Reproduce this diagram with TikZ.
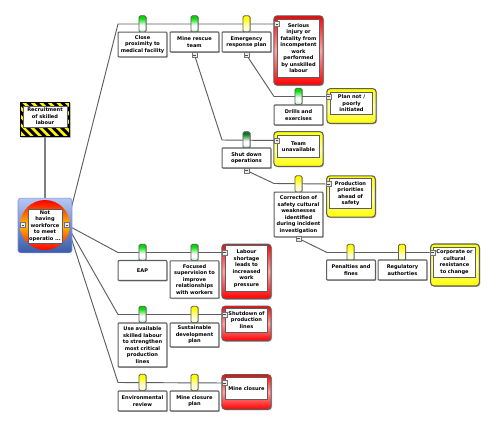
\documentclass[tikz,border=0pt]{standalone}
\usepackage{fontspec}
\setmainfont{DejaVu Sans}
\usetikzlibrary{shadows,backgrounds}
\definecolor{boxline}{HTML}{5E5E5E}
\definecolor{hazgreen}{HTML}{00DC00}
\definecolor{dkgreen}{HTML}{0B7A1E}
\definecolor{topblue}{HTML}{B4C8F0}
\definecolor{botblue}{HTML}{3A5CA8}
\pgfdeclareverticalshading{indg}{100bp}{color(0bp)=(hazgreen!45); color(25bp)=(hazgreen!45); color(36bp)=(white); color(46bp)=(white); color(68bp)=(hazgreen); color(100bp)=(hazgreen)}
\pgfdeclareverticalshading{indd}{100bp}{color(0bp)=(dkgreen!50); color(25bp)=(dkgreen!50); color(36bp)=(white); color(46bp)=(white); color(68bp)=(dkgreen); color(100bp)=(dkgreen)}
\pgfdeclareverticalshading{indy}{100bp}{color(0bp)=(yellow!35); color(25bp)=(yellow!35); color(36bp)=(yellow!12); color(46bp)=(yellow!30); color(66bp)=(yellow); color(100bp)=(yellow)}
\tikzset{
  txt/.style={font=\fontsize{3.8}{4.9}\selectfont\bfseries, align=center, inner sep=0pt},
  shade box/.style={drop shadow={shadow xshift=0.7pt, shadow yshift=-0.7pt, fill=black!45, opacity=0.6}},
  barrier/.style={txt, shade box, draw=boxline, line width=0.8pt, fill=white, rounded corners=0.5pt, minimum width=36.5pt, text width=35pt},
  ind/.style={draw=boxline, line width=0.6pt, rounded corners=1.3pt, minimum width=5.4pt, minimum height=12.5pt, inner sep=0pt},
  indgreen/.style={ind, shading=indg},
  inddark/.style={ind, shading=indd},
  indyellow/.style={ind, shading=indy},
  outer/.style={shade box, draw=boxline, line width=0.8pt, rounded corners=2.5pt},
  redcard/.style={outer, top color=red, bottom color=red, middle color=red!35},
  yelcard/.style={outer, top color=yellow, bottom color=yellow, middle color=yellow!35},
  inner/.style={txt, draw=boxline, line width=0.6pt, fill=white, minimum width=32pt, text width=32pt},
  link/.style={draw=boxline, line width=0.7pt},
  stripe/.style={line width=2.3pt, black},
  toggle/.style={draw=black!55, line width=0.4pt, fill=black!8, minimum size=4pt, inner sep=0pt,
    path picture={\draw[black!70, line width=0.3pt] ([xshift=-1.1pt]path picture bounding box.center) -- ([xshift=1.1pt]path picture bounding box.center);}}
}
\begin{document}
\begin{tikzpicture}[x=0.75pt, y=-0.75pt]
  \useasboundingbox (0,0) rectangle (494,429);
  % bends of the lines
  \coordinate (w1) at (118,24);
  \coordinate (w2) at (118,252.5);
  \coordinate (w3) at (118,314.5);
  \coordinate (w4) at (118,382.5);
  \coordinate (w5) at (222,140);
  \coordinate (w6) at (274,96.5);
  \coordinate (w7) at (274,183.5);
  \coordinate (w8) at (327,252.5);
  % hazard
  \node[shade box, draw=black, line width=0.8pt, minimum width=37pt, minimum height=26pt, inner sep=0pt, fill=yellow] (haz) at (45,119.5) {};
  \begin{scope}
    \clip (20.5,102.5) rectangle (69.5,136.5);
    \draw[stripe] (-8,100) -- (32,140) (0,100) -- (40,140) (8.5,100) -- (48.5,140) (17,100) -- (57,140) (25.5,100) -- (65.5,140)
      (34,100) -- (74,140) (42.5,100) -- (82.5,140) (51,100) -- (91,140) (59.5,100) -- (99.5,140) (68,100) -- (108,140);
  \end{scope}
  \node[txt, draw=boxline, line width=0.4pt, fill=white, minimum width=33pt, minimum height=15.5pt] (hazt) at (45,116.5)
    {Recruitment\\of skilled\\labour};
  % top event
  \node[draw=topblue!70!blue, line width=0.4pt, rounded corners=2pt, minimum width=40.5pt, minimum height=41pt, inner sep=0pt,
    top color=topblue, bottom color=botblue] (topbox) at (45,225.5) {};
  \node[circle, minimum size=37.5pt, inner sep=0pt, top color=red, bottom color=red, middle color=yellow!75!red] (disc) at (45,225) {};
  \node[txt, draw=boxline, line width=0.4pt, fill=white, text width=25pt, minimum width=25.5pt, minimum height=25.5pt] (top) at (45,226)
    {Not\\having\\workforce\\to meet\\operatio ...};
  % top row
  \node[indgreen] (i1) at (142.5,24) {};
  \node[indgreen] (i2) at (194.5,24) {};
  \node[indyellow] (i3) at (246.5,24) {};
  \node[barrier, minimum height=18.5pt] (b1) at (142.5,44.5) {Close\\proximity to\\medical facility};
  \node[barrier, minimum height=15pt] (b2) at (194.5,42) {Mine rescue\\team};
  \node[barrier, minimum height=15pt] (b3) at (246.5,42) {Emergency\\response plan};
  \node[redcard, minimum width=37pt, minimum height=52pt] (c1) at (298.5,50.5) {};
  \node[inner, minimum height=43.5pt] (c1t) at (298.5,48) {Serious\\injury or\\fatality from\\incompetent\\work\\performed\\by unskilled\\labour};
  % drills
  \node[indgreen] (i4) at (298.5,96.5) {};
  \node[barrier, minimum height=15pt] (b4) at (298.5,115) {Drills and\\exercises};
  \node[yelcard, minimum width=37pt, minimum height=26pt] (c2) at (351.5,106) {};
  \node[inner, minimum height=17pt] (c2t) at (351.5,103.5) {Plan not /\\poorly\\initiated};
  % shut down
  \node[inddark] (i5) at (246.5,140) {};
  \node[barrier, minimum height=15pt] (b5) at (246.5,158) {Shut down\\operations};
  \node[yelcard, minimum width=37pt, minimum height=26pt] (c3) at (298.5,149) {};
  \node[inner, minimum height=17pt] (c3t) at (298.5,146.5) {Team\\unavailable};
  % correction
  \node[indyellow] (i6) at (298.5,184) {};
  \node[barrier, minimum height=33.5pt] (b6) at (298.5,214.5) {Correction of\\safety cultural\\weaknesses\\identified\\during incident\\investigation};
  \node[yelcard, minimum width=36.5pt, minimum height=31pt] (c4) at (351,196.5) {};
  \node[inner, minimum height=23pt] (c4t) at (350.5,193.5) {Production\\priorities\\ahead of\\safety};
  % penalties
  \node[indyellow] (i7) at (350.5,252.5) {};
  \node[indyellow] (i8) at (402,252.5) {};
  \node[barrier, minimum height=15pt] (b7) at (351,270) {Penalties and\\fines};
  \node[barrier, minimum height=15pt] (b8) at (402.5,270) {Regulatory\\authorties};
  \node[yelcard, minimum width=36.5pt, minimum height=31.5pt] (c5) at (455,265) {};
  \node[inner, minimum height=22.5pt] (c5t) at (454.5,262) {Corporate or\\cultural\\resistance\\to change};
  % lower rows
  \node[indgreen] (i9) at (142.5,252.5) {};
  \node[indgreen] (i10) at (194.5,252.5) {};
  \node[barrier, minimum height=15pt] (b9) at (142.5,270.5) {EAP};
  \node[barrier, minimum height=28pt] (b10) at (194.5,279.5) {Focused\\supervision to\\improve\\relationships\\with workers};
  \node[redcard, minimum width=37pt, minimum height=41pt] (c6) at (246.5,271.5) {};
  \node[inner, minimum height=34pt] (c6t) at (246.5,268.5) {Labour\\shortage\\leads to\\increased\\work\\pressure};
  \node[indgreen] (i11) at (142.5,314.5) {};
  \node[indyellow] (i12) at (194.5,314.5) {};
  \node[barrier, minimum height=33pt] (b11) at (142.5,345) {Use available\\skilled labour\\to strengthen\\most critical\\production\\lines};
  \node[barrier, minimum height=18pt] (b12) at (194.5,335) {Sustainable\\development\\plan};
  \node[redcard, minimum width=37pt, minimum height=26pt] (c7) at (246.5,323.5) {};
  \node[inner, minimum height=18pt] (c7t) at (246.5,320) {Shutdown of\\production\\lines};
  \node[indyellow] (i13) at (142.5,382.5) {};
  \node[indyellow] (i14) at (194.5,382.5) {};
  \node[barrier, minimum height=15pt] (b13) at (142.5,401) {Environmental\\review};
  \node[barrier, minimum height=15pt] (b14) at (194.5,401) {Mine closure\\plan};
  \node[redcard, minimum width=37pt, minimum height=26pt] (c8) at (246.5,392) {};
  \node[inner, minimum height=17pt] (c8t) at (246.5,388.5) {Mine closure};
  % toggles
  \node[toggle] (t1) at (23,225) {};
  \node[toggle] (t2) at (67,225) {};
  \node[toggle] (t3) at (277,24) {};
  \node[toggle] (t4) at (194.5,55) {};
  \node[toggle] (t5) at (246.5,55) {};
  \node[toggle] (t6) at (328.5,96.5) {};
  \node[toggle] (t7) at (277,140.5) {};
  \node[toggle] (t8) at (246.5,170.5) {};
  \node[toggle] (t9) at (328.5,184) {};
  \node[toggle] (t10) at (298.5,238.5) {};
  \node[toggle] (t11) at (432.5,252.5) {};
  \node[toggle] (t12) at (224.5,252.5) {};
  \node[toggle] (t13) at (224.5,314.5) {};
  \node[toggle] (t14) at (224.5,383) {};
  % lines go behind the boxes
  \begin{scope}[on background layer]
    \fill[white] (0,0) rectangle (494,429);
    \draw[link, draw=black!50, line width=1.3pt] (haz) -- (topbox);
    \draw[link] (t2.center) -- (w1) -- (t3);
    \draw[link] (t2.center) -- (w2) -- (t12);
    \draw[link] (t2.center) -- (w3) -- (t13);
    \draw[link] (t2.center) -- (w4) -- (t14);
    \draw[link] (t4) -- (w5) -- (t7);
    \draw[link] (t5) -- (w6) -- (t6);
    \draw[link] (t8) -- (w7) -- (t9);
    \draw[link] (t10) -- (w8) -- (t11);
  \end{scope}
\end{tikzpicture}
\end{document}
